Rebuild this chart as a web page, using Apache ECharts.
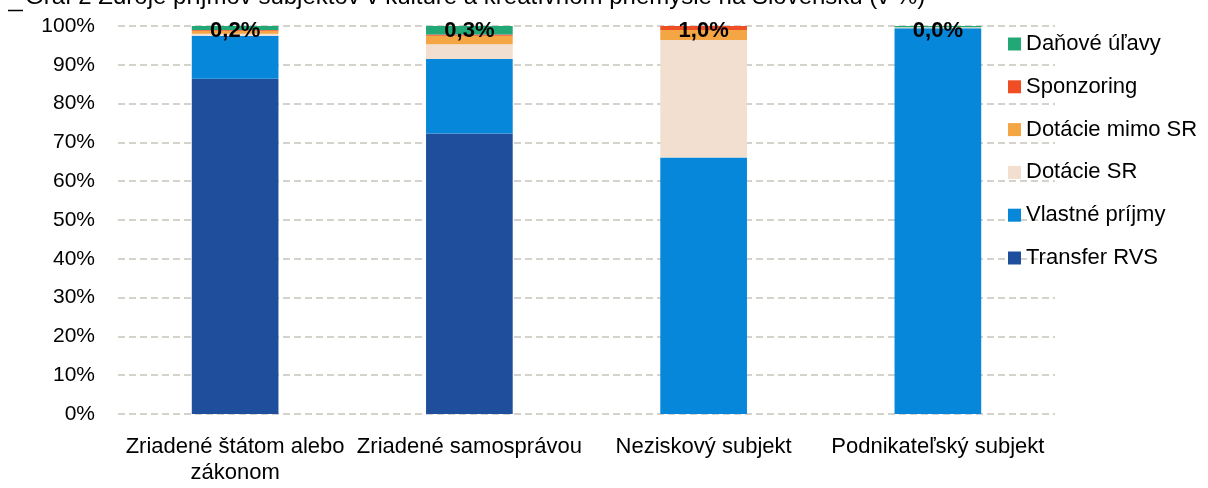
<!DOCTYPE html>
<html>
<head>
<meta charset="utf-8">
<script src="https://cdn.jsdelivr.net/npm/echarts@6/dist/echarts.min.js"></script>
<style>
html,body{margin:0;padding:0;background:#fff;}
#chart{width:1208px;height:488px;}
</style>
</head>
<body>
<div id="chart"></div>
<script>
var titleText = 'Graf 2 Zdroje príjmov subjektov v kultúre a kreatívnom priemysle na Slovensku (v %)';
var categories = ['Zriadené štátom alebo\nzákonom', 'Zriadené samosprávou', 'Neziskový subjekt', 'Podnikateľský subjekt'];
var seriesNames = ['Transfer RVS', 'Vlastné príjmy', 'Dotácie SR', 'Dotácie mimo SR', 'Sponzoring', 'Daňové úľavy'];
var transferRVS = [86.4, 72.3, 0, 0];
var vlastnePrijmy = [11.1, 19.2, 66.1, 99.4];
var dotacieSR = [0.5, 3.8, 30.3, 0.3];
var dotacieMimoSR = [0.8, 2.2, 2.6, 0];
var sponzoring = [0.2, 0.3, 1.0, 0.0];
var danoveUlavy = [1.0, 2.2, 0, 0.3];
var yTicks = [0, 10, 20, 30, 40, 50, 60, 70, 80, 90, 100];

var FONT = "'Liberation Sans Narrow','Arial Narrow','Liberation Sans',Arial,sans-serif";
var colors = ['#1f4e9d', '#0787d9', '#f2dfcf', '#f4a544', '#ef4d24', '#22a877'];
var values = [transferRVS, vlastnePrijmy, dotacieSR, dotacieMimoSR, sponzoring, danoveUlavy];

var series = seriesNames.map(function (name, i) {
  var s = {
    name: name,
    type: 'bar',
    stack: 'total',
    barWidth: '37%',
    data: values[i],
    itemStyle: { color: colors[i] },
    emphasis: { disabled: true }
  };
  if (i === seriesNames.length - 1) {
    s.label = {
      show: true,
      position: 'insideTop',
      distance: 0,
      offset: [0, -6],
      fontFamily: FONT,
      fontWeight: 'bold',
      fontSize: 22,
      color: '#000',
      formatter: function (p) {
        return sponzoring[p.dataIndex].toFixed(1).replace('.', ',') + '%';
      }
    };
  }
  return s;
});

var chart = echarts.init(document.getElementById('chart'), null, { renderer: 'canvas' });
chart.setOption({
  animation: false,
  backgroundColor: '#fff',
  graphic: [
    { type: 'text', left: 25, top: -15, style: { text: titleText, font: '24px ' + FONT, fill: '#000' } },
    { type: 'line', shape: { x1: 8, y1: 10.5, x2: 23, y2: 10.5 }, style: { stroke: '#000', lineWidth: 1.5 } }
  ],
  legend: {
    orient: 'vertical',
    left: 1003,
    top: 28,
    itemGap: 20.8,
    itemWidth: 13,
    itemHeight: 13,
    data: seriesNames.slice().reverse(),
    textStyle: { fontFamily: FONT, fontSize: 22, lineHeight: 22, color: '#000' },
    icon: 'rect'
  },
  grid: { left: 118, right: 153, top: 26, bottom: 74 },
  xAxis: {
    type: 'category',
    data: categories,
    axisLine: { show: false },
    axisTick: { show: false },
    axisLabel: { fontFamily: FONT, fontSize: 22, color: '#000', margin: 20, lineHeight: 26, interval: 0 }
  },
  yAxis: {
    type: 'value',
    min: 0,
    max: 100,
    interval: 10,
    axisLine: { show: false },
    axisTick: { show: false },
    axisLabel: {
      fontFamily: FONT, fontSize: 21, color: '#000', margin: 23,
      formatter: function (v) { return yTicks.indexOf(v) >= 0 ? v + '%' : ''; }
    },
    splitLine: { lineStyle: { color: '#c8c3bb', type: [7, 4], width: 1.5 } }
  },
  series: series
});
</script>
</body>
</html>
